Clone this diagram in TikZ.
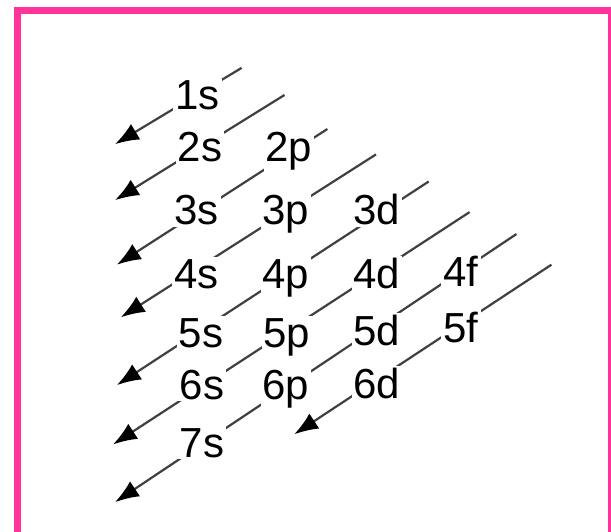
\documentclass[tikz,border=0pt]{standalone}
\usepackage{fontspec}
\setmainfont{Liberation Sans}
\usetikzlibrary{arrows.meta}
\definecolor{framepink}{RGB}{255,51,153}
\begin{document}
\begin{tikzpicture}[x=1pt,y=-1pt,
  orb/.style={fill=white, inner sep=2pt, anchor=base, font=\fontsize{42}{42}\selectfont},
  arr/.style={draw=black!75, line width=2.2pt, -{Latex[length=24pt,width=18pt,color=black]}},
  frame/.style={draw=framepink, line width=7pt}]
\useasboundingbox (0,0) rectangle (611,532);
\fill[white] (0,0) rectangle (611,532);
\clip (0,0) rectangle (611,532);
\draw[frame] (17.5,10.5) rectangle (611.5,560);
% arrow ends
\coordinate (s1) at (241.6,67.9);  \coordinate (e1) at (115,144.2);
\coordinate (s2) at (284.5,95);    \coordinate (e2) at (115,200.2);
\coordinate (s3) at (327.4,129);   \coordinate (e3) at (116.9,264.7);
\coordinate (s4) at (376,154.4);   \coordinate (e4) at (120.8,317.3);
\coordinate (s5) at (428.7,181.5); \coordinate (e5) at (116.9,385.1);
\coordinate (s6) at (469.6,212.1); \coordinate (e6) at (113,444.5);
\coordinate (s7) at (516.4,234.1); \coordinate (e7) at (115,502.2);
\coordinate (s8) at (551.4,264.7); \coordinate (e8) at (294.2,434.3);
\foreach \i in {1,...,8} {\draw[arr] (s\i) -- (e\i);}
% labels
\node[orb] (o1s) at (197.5,110) {1s};
\node[orb] (o2s) at (200,162) {2s};
\node[orb] (o2p) at (289,162) {2p};
\node[orb] (o3s) at (196.5,225) {3s};
\node[orb] (o3p) at (286,225) {3p};
\node[orb] (o3d) at (377,225) {3d};
\node[orb] (o4s) at (196.5,288) {4s};
\node[orb] (o4p) at (286,288) {4p};
\node[orb] (o4d) at (377,288) {4d};
\node[orb] (o4f) at (461,286) {4f};
\node[orb] (o5s) at (201,347) {5s};
\node[orb] (o5p) at (287,347) {5p};
\node[orb] (o5d) at (377,345) {5d};
\node[orb] (o5f) at (461,342) {5f};
\node[orb] (o6s) at (202,399) {6s};
\node[orb] (o6p) at (286,399) {6p};
\node[orb] (o6d) at (377,398) {6d};
\node[orb] (o7s) at (202,457) {7s};
\end{tikzpicture}
\end{document}
